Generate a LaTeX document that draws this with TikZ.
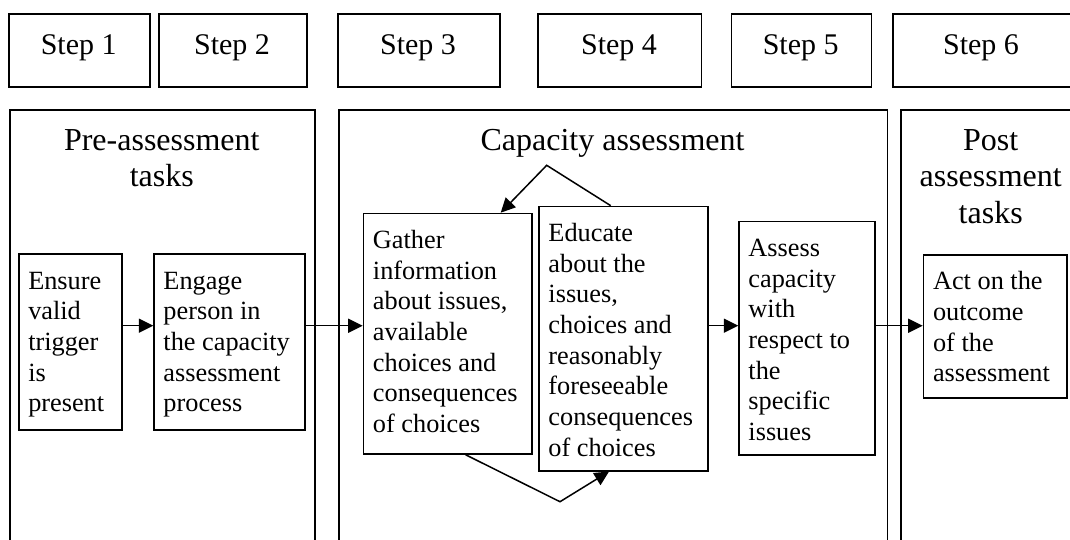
\documentclass[tikz,border=0pt]{standalone}
\usepackage{fontspec}
\setmainfont{Liberation Serif}
\usetikzlibrary{arrows.meta}
\begin{document}
\begin{tikzpicture}[x=1pt,y=-1pt,line width=1.5pt,
  stepbox/.style={draw,inner sep=0pt,anchor=north west,minimum height=72.7pt},
  steptext/.style={inner sep=0pt,anchor=base,font=\fontsize{30}{35}\selectfont},
  bigbox/.style={draw,inner sep=0pt,anchor=north west,minimum height=470pt},
  taskbox/.style={draw,inner sep=0pt,anchor=north west},
  tasktext/.style={inner sep=0pt,anchor=north west,align=left,font=\fontsize{26.3}{30.7}\selectfont},
  titletext/.style={inner sep=0pt,anchor=north,align=center,font=\fontsize{32}{36.5}\selectfont},
  arr/.style={-{Triangle[length=14.5pt,width=14pt]}}]
\useasboundingbox (0,0) rectangle (1070,539);
\clip (0,0) rectangle (1070,539);
% step boxes
\node[stepbox,minimum width=140.7pt] (s1) at (8.3,13.3) {};
\node[stepbox,minimum width=148pt] (s2) at (158,13.3) {};
\node[stepbox,minimum width=162pt] (s3) at (337,13.3) {};
\node[stepbox,minimum width=163.4pt] (s4) at (537.3,13.3) {};
\node[stepbox,minimum width=140pt] (s5) at (730.7,13.3) {};
\node[stepbox,minimum width=200pt] (s6) at (892,13.3) {};
\node[steptext] (s1t) at (78.7,54.8) {Step 1};
\node[steptext] (s2t) at (232,54.8) {Step 2};
\node[steptext] (s3t) at (418,54.8) {Step 3};
\node[steptext] (s4t) at (619,54.8) {Step 4};
\node[steptext] (s5t) at (800.7,54.8) {Step 5};
\node[steptext] (s6t) at (981,54.8) {Step 6};
% big boxes
\node[bigbox,minimum width=305pt] (pre) at (9.3,109.3) {};
\node[bigbox,minimum width=548.4pt] (cap) at (338.3,109.3) {};
\node[bigbox,minimum width=200pt] (post) at (900,109.3) {};
\node[titletext] (pret) at (161.8,124.1) {\strut Pre-assessment\\tasks};
\node[titletext] (capt) at (612.5,124.1) {\strut Capacity assessment};
\node[titletext] (postt) at (990.7,124.1) {\strut Post\\assessment\\tasks};
% task boxes
\node[taskbox,minimum width=102.7pt,minimum height=176pt] (en) at (18.3,253.3) {};
\node[taskbox,minimum width=151pt,minimum height=176pt] (eg) at (153.3,253.3) {};
\node[taskbox,minimum width=168.3pt,minimum height=240.6pt] (ga) at (362.7,212.7) {};
\node[taskbox,minimum width=169pt,minimum height=264.3pt] (ed) at (538.3,205.7) {};
\node[taskbox,minimum width=135.7pt,minimum height=233.6pt] (as) at (738.3,220.7) {};
\node[taskbox,minimum width=143.3pt,minimum height=143.3pt] (ac) at (922.7,254) {};
\node[tasktext] (ent) at (27.5,266.8) {\strut Ensure\\valid\\trigger\\is\\present};
\node[tasktext] (egt) at (162.7,266.8) {\strut Engage\\person in\\the capacity\\assessment\\process};
\node[tasktext] (gat) at (372.2,226.2) {\strut Gather\\information\\about issues,\\available\\choices and\\consequences\\of choices};
\node[tasktext] (edt) at (547.7,219.2) {\strut Educate\\about the\\issues,\\choices and\\reasonably\\foreseeable\\consequences\\of choices};
\node[tasktext] (ast) at (747.7,234.2) {\strut Assess\\capacity\\with\\respect to\\the\\specific\\issues};
\node[tasktext] (act) at (932.3,267.5) {\strut Act on the\\outcome\\of the\\assessment};
% connectors
\coordinate (row) at (0,325.7);
\draw[arr] (en.east |- row) -- (eg.west |- row);
\draw[arr] (eg.east |- row) -- (ga.west |- row);
\draw[arr] (ed.east |- row) -- (as.west |- row);
\draw[arr] (as.east |- row) -- (ac.west |- row);
\coordinate (topc) at (546.7,165.3);
\coordinate (botc) at (560,501.7);
\draw[arr] ([xshift=-12.8pt]ed.north) -- (topc) -- ([xshift=53.1pt]ga.north);
\draw[arr] ([xshift=18.1pt]ga.south) -- (botc) -- ([xshift=-14.5pt]ed.south);
\end{tikzpicture}
\end{document}
